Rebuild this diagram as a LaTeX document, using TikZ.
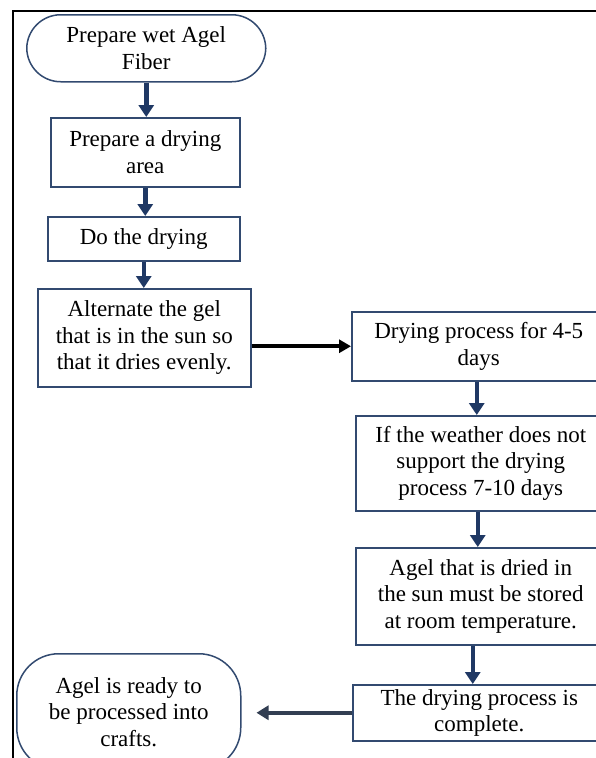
\documentclass[tikz,border=0pt]{standalone}
\usepackage{fontspec}
\setmainfont{Liberation Serif}
\usetikzlibrary{arrows.meta}

\definecolor{boxblue}{RGB}{50,74,112}
\definecolor{arrownavy}{RGB}{31,56,100}
\definecolor{arrowslate}{RGB}{50,62,82}

\tikzset{every picture/.style={line width=0.75pt}}
\tikzset{
  stepbox/.style={draw=boxblue, line width=1.5pt, fill=white, align=center, inner sep=1pt,
    anchor=north west, font=\fontsize{23}{26.5}\selectfont},
  termbox/.style={stepbox, rounded corners=34pt},
  navyarrow/.style={draw=arrownavy, line width=4.5pt, -{Triangle[length=12pt,width=15pt]}},
  blackarrow/.style={draw=black, line width=4pt, -{Triangle[length=12pt,width=13pt]}},
  slatearrow/.style={draw=arrowslate, line width=4.5pt, -{Triangle[length=12pt,width=14pt]}}
}

\begin{document}
\begin{tikzpicture}[x=1pt,y=1pt,yscale=-1,xscale=1]
\useasboundingbox (0,0) rectangle (596,758);
\clip (0,0) rectangle (596,758);

%Frame
\draw [line width=2.5pt] (13,790) -- (13,11) -- (620,11) ;

%Left column
\node [termbox, minimum width=239pt, minimum height=67pt] (wetfiber) at (26,14) {Prepare wet Agel\\Fiber};
\node [stepbox, minimum width=189pt, minimum height=69pt] (dryarea) at (50,117) {Prepare a drying\\area};
\node [stepbox, minimum width=192pt, minimum height=44pt] (drying) at (47,216) {Do the drying};
\node [stepbox, minimum width=213pt, minimum height=98pt] (alternate) at (37,288) {Alternate the gel\\that is in the sun so\\that it dries evenly.};

%Right column
\node [stepbox, minimum width=254pt, minimum height=69pt] (fourdays) at (351,311) {Drying process for 4-5\\days};
\node [stepbox, minimum width=250pt, minimum height=95pt] (weather) at (355,415) {If the weather does not\\support the drying\\process 7-10 days};
\node [stepbox, minimum width=250pt, minimum height=97pt] (stored) at (355,547) {Agel that is dried in\\the sun must be stored\\at room temperature.};
\node [stepbox, minimum width=253pt, minimum height=56pt] (complete) at (352,684) {The drying process is\\complete.};

%End
\node [termbox, rounded corners=42pt, minimum width=224pt, minimum height=116pt] (ready) at (16,653) {Agel is ready to\\be processed into\\crafts.};

%Arrows
\draw [navyarrow] (wetfiber.south) -- (wetfiber.south |- dryarea.north) ;
\draw [navyarrow] (dryarea.south) -- (dryarea.south |- drying.north) ;
\draw [navyarrow] (drying.south) -- (drying.south |- alternate.north) ;
\draw [blackarrow] (alternate.east |- fourdays.west) -- (fourdays.west) ;
\draw [navyarrow] ([xshift=-2pt]fourdays.south) -- ([xshift=-2pt]fourdays.south |- weather.north) ;
\draw [navyarrow] ([xshift=-3pt]weather.south) -- ([xshift=-3pt]weather.south |- stored.north) ;
\draw [navyarrow] ([xshift=-8pt]stored.south) -- ([xshift=-8pt]stored.south |- complete.north) ;
\draw [slatearrow, shorten >=15pt] (complete.west) -- (complete.west -| ready.east) ;

\end{tikzpicture}
\end{document}
